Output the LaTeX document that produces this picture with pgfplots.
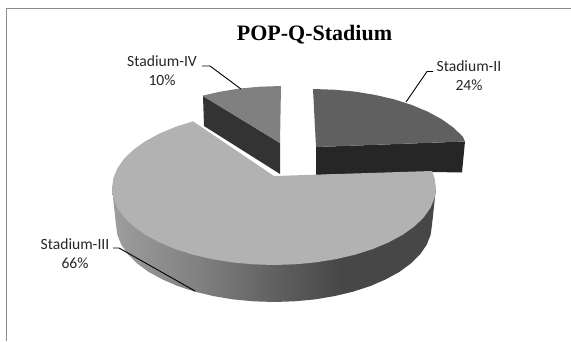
\documentclass[border=0pt]{standalone}
\usepackage{fontspec}
\setmainfont{Carlito}
\newfontfamily\titlefont{Liberation Serif}
\usepackage{pgfplots}
\pgfplotsset{compat=1.18}
\definecolor{slicetwo}{HTML}{606060}
\definecolor{slicetwoside}{HTML}{262626}
\definecolor{slicethree}{HTML}{B2B2B2}
\definecolor{slicefour}{HTML}{808080}
\definecolor{slicefourside}{HTML}{333333}
\definecolor{framegray}{HTML}{8C8C8C}
\definecolor{labeltext}{HTML}{262626}
\tikzset{slice label/.style={text=labeltext, align=center, inner sep=0pt,
  font=\fontsize{15.6}{19}\selectfont}}
% Rim of the large slice: light on the left, dark on the right
\pgfdeclarehorizontalshading{rimshade}{100bp}{%
  rgb(0bp)=(0.62,0.62,0.62);
  rgb(25bp)=(0.62,0.62,0.62);
  rgb(38.6bp)=(0.50,0.50,0.50);
  rgb(50.9bp)=(0.37,0.37,0.37);
  rgb(60.2bp)=(0.28,0.28,0.28);
  rgb(75bp)=(0.28,0.28,0.28);
  rgb(100bp)=(0.28,0.28,0.28)}
\begin{document}
\begin{tikzpicture}
\path[use as bounding box] (0,0) rectangle (571pt,341pt);
\begin{axis}[
  at={(0,0)}, anchor=south west,
  width=571pt, height=341pt, scale only axis,
  xmin=0, xmax=571, ymin=0, ymax=341, y dir=reverse,
  axis lines=none, clip=false,
]
% Chart frame
\addplot[framegray, line width=1.2pt] coordinates {(6.5,341) (6.5,8.5) (571,8.5)};

% Stadium-IV: side wall, then top face
\addplot[fill=slicefourside, draw=none] coordinates {(203,96) (280,143) (280,174) (204,126)} -- cycle;
\addplot[fill=slicefour, draw=none] coordinates {(281,86) (259.9,86.7) (239.1,88.6) (219,91.9) (202.5,95.7) (280,143)} -- cycle;

% Stadium-II: side wall, then top face
\addplot[fill=slicetwoside, draw=none] coordinates {(316,147) (465,141.5) (462,172.5) (433,172) (316,175)} -- cycle;
\addplot[fill=slicetwo, draw=none] coordinates {(313,89) (334.1,89.7) (354.9,91.6) (375,94.9) (394,99.3) (411.6,104.9) (427.6,111.6) (441.5,119.1) (453.3,127.5) (462.7,136.5) (465,141.5) (316,147)} -- cycle;

% Stadium-III: rim, then top face
\addplot[shade, shading=rimshade, draw=none] coordinates {
  (112,188) (116,225) (117.4,235) (121.4,244.9) (128,254.5) (137.2,263.5) (148.6,271.9)
  (162.3,279.4) (177.8,286.1) (195,291.7) (213.5,296.1) (233.1,299.4) (253.4,301.3)
  (274,302) (294.6,301.3) (314.9,299.4) (334.5,296.1) (353,291.7) (370.2,286.1)
  (385.7,279.4) (399.4,271.9) (410.8,263.5) (420,254.5) (426.6,244.9) (430.6,235)
  (432,225) (436,188)} -- cycle;
\addplot[fill=slicethree, draw=none] coordinates {
  (193,121.3) (175.4,126.9) (159.4,133.6) (145.5,141.1) (133.7,149.5) (124.3,158.5)
  (117.5,168.1) (113.4,178) (112,188) (113.4,198) (117.5,207.9) (124.3,217.5)
  (133.7,226.5) (145.5,234.9) (159.4,242.4) (175.4,249.1) (193,254.7) (212,259.1)
  (232.1,262.4) (252.9,264.3) (274,265) (295.1,264.3) (315.9,262.4) (336,259.1)
  (355,254.7) (372.6,249.1) (388.6,242.4) (402.5,234.9) (414.3,226.5) (423.7,217.5)
  (430.5,207.9) (434.6,198) (436,188) (434.6,178) (432,171) (274,176)} -- cycle;

% Leader lines
\addplot[black, line width=0.9pt] coordinates {(202,66) (210,66) (241,89)};
\addplot[black, line width=0.9pt] coordinates {(433,71.5) (427,71.5) (406,102)};
\addplot[black, line width=0.9pt] coordinates {(113,248) (119,248) (195,291)};

% Title and slice labels
\node[text=black, font=\titlefont\bfseries\fontsize{22}{26}\selectfont] at (axis cs:314.5,34.5) {POP-Q-Stadium};
\node[slice label] at (axis cs:162,70.5) {Stadium-IV\\10\%};
\node[slice label] at (axis cs:469,76) {Stadium-II\\24\%};
\node[slice label] at (axis cs:75,253.5) {Stadium-III\\66\%};
\end{axis}
\end{tikzpicture}
\end{document}
